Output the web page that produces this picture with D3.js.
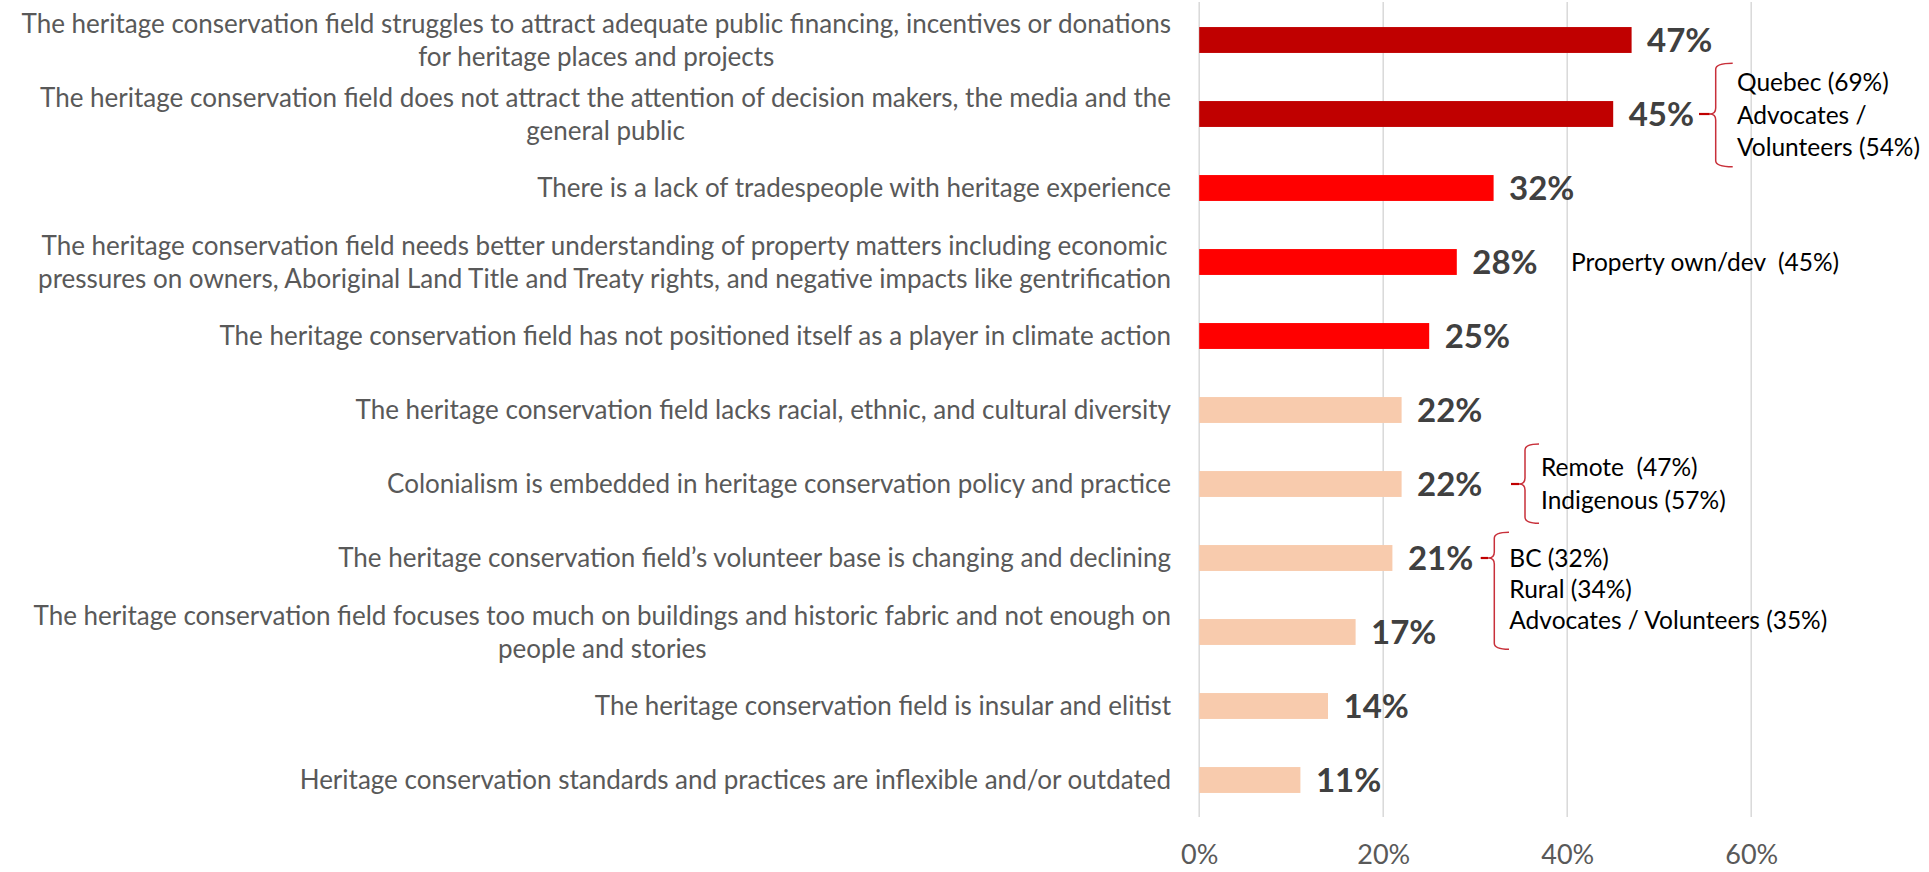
<!DOCTYPE html>
<html><head><meta charset="utf-8">
<script src="https://cdn.jsdelivr.net/npm/d3@7"></script>
<style>
html,body{margin:0;padding:0;background:#fff;}
svg{display:block;font-family:Lato,"Open Sans",sans-serif;}
text{white-space:pre;}
</style></head>
<body>
<svg id="chart" width="1929" height="872"></svg>
<script>
// ---------- DATA ----------
const categories = [
  "The heritage conservation field struggles to attract adequate public financing, incentives or donations\nfor heritage places and projects",
  "The heritage conservation field does not attract the attention of decision makers, the media and the\ngeneral public",
  "There is a lack of tradespeople with heritage experience",
  "The heritage conservation field needs better understanding of property matters including economic\npressures on owners, Aboriginal Land Title and Treaty rights, and negative impacts like gentrification",
  "The heritage conservation field has not positioned itself as a player in climate action",
  "The heritage conservation field lacks racial, ethnic, and cultural diversity",
  "Colonialism is embedded in heritage conservation policy and practice",
  "The heritage conservation field\u2019s volunteer base is changing and declining",
  "The heritage conservation field focuses too much on buildings and historic fabric and not enough on\npeople and stories",
  "The heritage conservation field is insular and elitist",
  "Heritage conservation standards and practices are inflexible and/or outdated"
];
const values = [0.47, 0.45, 0.32, 0.28, 0.25, 0.22, 0.22, 0.21, 0.17, 0.14, 0.11];
const tiers = ["top", "top", "mid", "mid", "mid", "low", "low", "low", "low", "low", "low"];
const tickValues = [0, 0.2, 0.4, 0.6];
const tickLabels = ["0%", "20%", "40%", "60%"];

// Subgroup call-outs (category index -> lines)
const noteCategory = [1, 3, 6, 7];
const noteLines = [
  ["Quebec (69%)", "Advocates /", "Volunteers (54%)"],
  ["Property own/dev  (45%)"],
  ["Remote  (47%)", "Indigenous (57%)"],
  ["BC (32%)", "Rural (34%)", "Advocates / Volunteers (35%)"]
];
const noteHasBrace = [true, false, true, true];

// ---------- STYLE / LAYOUT ----------
const colors = {top: "#C00000", mid: "#FF0000", low: "#F8CBAD"};
const svg = d3.select("#chart");
const x = d3.scaleLinear().domain([0, 0.6]).range([1199.2, 1751.2]);
const y = d3.scaleBand().domain(d3.range(categories.length)).range([3, 817])
  .paddingInner(0.65).paddingOuter(0.325);

// brace layout (pixel geometry per note)
const braceGeom = [
  {tick: 1699, vx: 1715.7, hook: 1732.7, top: 63.3, bottom: 166.7, tx: 1737, lh: 32.5},
  {tick: null, tx: 1571, lh: 32.5},
  {tick: 1511, vx: 1525, hook: 1539, top: 444, bottom: 523.3, tx: 1541, lh: 32.6},
  {tick: 1480.7, vx: 1494.3, hook: 1509, top: 532.3, bottom: 649.3, tx: 1509.3, lh: 31.2}
];

// gridlines
svg.append("g").selectAll("line").data(tickValues).join("line")
  .attr("x1", d => x(d)).attr("x2", d => x(d))
  .attr("y1", 2).attr("y2", 817)
  .attr("stroke", "#d9d9d9").attr("stroke-width", 1.5);

// x axis tick labels
const xAxis = d3.axisBottom(x).tickValues(tickValues)
  .tickFormat((d, i) => tickLabels[i]).tickSize(0).tickPadding(0);
const ax = svg.append("g").attr("transform", "translate(0,864)").call(xAxis);
ax.select(".domain").remove();
ax.selectAll("text").attr("font-size", 27).attr("fill", "#595959")
  .attr("font-family", "Lato, sans-serif").attr("dy", "0");

// bars
svg.append("g").selectAll("rect").data(values).join("rect")
  .attr("x", x(0)).attr("y", (d, i) => y(i))
  .attr("width", d => x(d) - x(0)).attr("height", y.bandwidth())
  .attr("fill", (d, i) => colors[tiers[i]]);

// value labels
svg.append("g").selectAll("text").data(values).join("text")
  .attr("x", d => x(d) + 15.5)
  .attr("y", (d, i) => y(i) + y.bandwidth() / 2)
  .attr("dy", "0.37em")
  .attr("font-size", 33).attr("font-weight", 700).attr("fill", "#404040")
  .text(d => Math.round(d * 100) + "%");

// category labels (multi-line, block right aligned, lines centered)
const labelRight = 1171;
const catG = svg.append("g");
categories.forEach((c, i) => {
  const lines = c.split("\n");
  const lh = 33;
  const cy = y(i) + y.bandwidth() / 2;
  const t = catG.append("text").attr("font-size", 26).attr("fill", "#595959");
  const spans = lines.map((l, k) => t.append("tspan").text(l)
    .attr("y", cy + (k - (lines.length - 1) / 2) * lh).attr("dy", "0.35em"));
  const widths = spans.map(s => s.node().getComputedTextLength());
  const maxW = d3.max(widths);
  const centerX = labelRight - maxW / 2;
  spans.forEach(s => s.attr("x", centerX).attr("text-anchor", "middle"));
});

// notes with braces
const noteG = svg.append("g");
noteCategory.forEach((ci, n) => {
  const g = braceGeom[n];
  const cy = y(ci) + y.bandwidth() / 2;
  if (noteHasBrace[n]) {
    const r = 6;
    const p = d3.path();
    p.moveTo(g.hook, g.top);
    p.quadraticCurveTo(g.vx, g.top, g.vx, g.top + r);
    p.lineTo(g.vx, cy - r);
    p.quadraticCurveTo(g.vx, cy, g.vx - r, cy);
    p.moveTo(g.vx - r, cy);
    p.quadraticCurveTo(g.vx, cy, g.vx, cy + r);
    p.lineTo(g.vx, g.bottom - r);
    p.quadraticCurveTo(g.vx, g.bottom, g.hook, g.bottom);
    noteG.append("path").attr("d", p.toString()).attr("fill", "none")
      .attr("stroke", "#C8303A").attr("stroke-width", 1.5);
    noteG.append("line").attr("x1", g.tick).attr("x2", g.vx - r)
      .attr("y1", cy).attr("y2", cy).attr("stroke", "#C00000").attr("stroke-width", 2.2);
  }
  const lines = noteLines[n];
  const midY = noteHasBrace[n] ? (g.top + g.bottom) / 2 : cy;
  const t = noteG.append("text").attr("font-size", 24.5).attr("fill", "#000");
  lines.forEach((l, k) => {
    t.append("tspan").attr("x", g.tx)
      .attr("y", (n === 3 ? cy : midY) + (n === 3 ? k * g.lh : (k - (lines.length - 1) / 2) * g.lh))
      .attr("dy", "0.35em").text(l);
  });
});
</script>
</body></html>
